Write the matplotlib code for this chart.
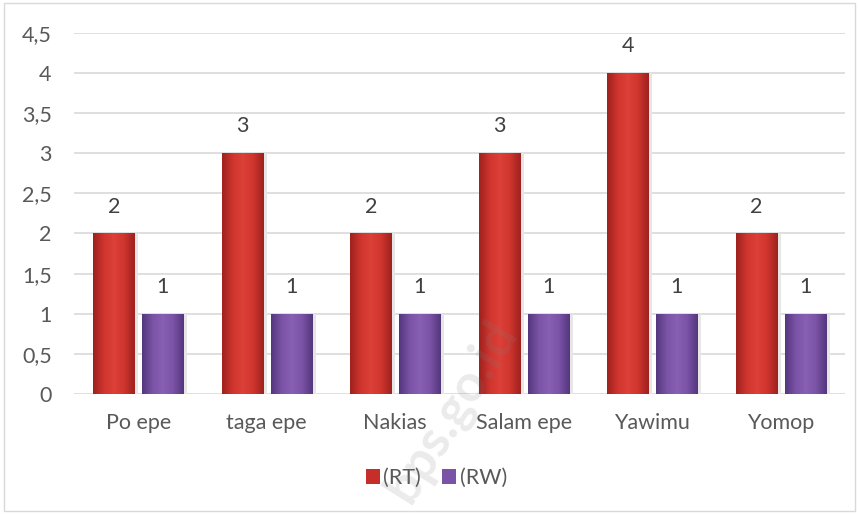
import numpy as np
import matplotlib.pyplot as plt
from matplotlib.colors import LinearSegmentedColormap
from matplotlib.patches import Patch

plt.rcParams['font.family'] = ['Lato', 'DejaVu Sans']

categories = ['Po epe', 'taga epe', 'Nakias', 'Salam epe', 'Yawimu', 'Yomop']
rt = [2, 3, 2, 3, 4, 2]
rw = [1, 1, 1, 1, 1, 1]
yticks = [0, 0.5, 1, 1.5, 2, 2.5, 3, 3.5, 4, 4.5]
ytick_labels = ['0', '0,5', '1', '1,5', '2', '2,5', '3', '3,5', '4', '4,5']

red_cmap = LinearSegmentedColormap.from_list('r', ['#9e221e', '#cf342e', '#dc4038', '#cf342e', '#9e221e'])
pur_cmap = LinearSegmentedColormap.from_list('p', ['#55377e', '#7a53a6', '#8760b3', '#7a53a6', '#55377e'])

fig = plt.figure(figsize=(8.59, 5.14), dpi=100)
ax = fig.add_axes([0.086, 0.2335, 0.898, 0.7025])

x = np.arange(len(categories))
w = 0.32
off = 0.19

grad = np.linspace(0, 1, 64).reshape(1, -1)

def grad_bars(xs, vals, cmap):
    bars = ax.bar(xs, vals, width=w, color=cmap(0.5), edgecolor='none', zorder=2)
    for b in bars:
        x0, y0 = b.get_x(), b.get_y()
        im = ax.imshow(grad, cmap=cmap, aspect='auto', zorder=3,
                       extent=[x0, x0 + b.get_width(), y0, y0 + b.get_height()])
        im.set_clip_path(b)
        # soft shadow
        ax.bar(x0 + b.get_width() / 2 + 0.015, b.get_height(), width=w + 0.03,
               color='#e6e6e6', zorder=1.5, edgecolor='none')
    return bars

grad_bars(x - off, rt, red_cmap)
grad_bars(x + off, rw, pur_cmap)

fs = 15.5
for xi, v in zip(x - off, rt):
    ax.text(xi, v + 0.21, str(v), ha='center', va='bottom', fontsize=fs, color='#404040')
for xi, v in zip(x + off, rw):
    ax.text(xi, v + 0.21, str(v), ha='center', va='bottom', fontsize=fs, color='#404040')

ax.set_xlim(-0.5, len(categories) - 0.5)
ax.set_ylim(0, 4.5)
ax.set_yticks(yticks)
ax.set_yticklabels(ytick_labels)
ax.set_xticks(x)
ax.set_xticklabels(categories)
ax.tick_params(axis='both', length=0, labelsize=fs, colors='#595959')
ax.tick_params(axis='y', pad=16)
ax.tick_params(axis='x', pad=14)
ax.grid(axis='y', color='#d9d9d9', linewidth=1.2, zorder=0)
ax.set_axisbelow(True)
for s in ax.spines.values():
    s.set_visible(False)

handles = [Patch(facecolor='#c52e29', label='(RT)'), Patch(facecolor='#7a53a6', label='(RW)')]
fig.legend(handles=handles, loc='center', bbox_to_anchor=(0.508, 0.07), ncol=2, frameon=False,
           fontsize=fs, handlelength=0.65, handleheight=0.65, handletextpad=0.15, columnspacing=1.0,
           labelcolor='#595959')

# translucent watermark on top
fig.text(0.526, 0.2, 'bps.go.id', fontsize=37, fontweight='bold', color='#808080', alpha=0.16,
         rotation=58, ha='center', va='center', zorder=10)

fig.patches.append(plt.Rectangle((0.005, 0.005), 0.99, 0.99, transform=fig.transFigure,
                                 fill=False, edgecolor='#d9d9d9', linewidth=1))

fig.savefig('out.png', dpi=100)
